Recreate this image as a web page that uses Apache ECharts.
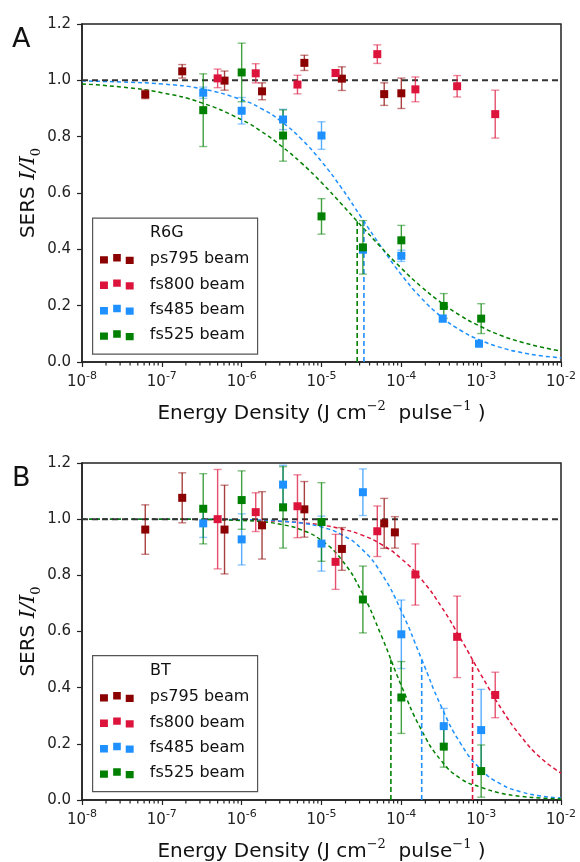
<!DOCTYPE html>
<html>
<head>
<meta charset="utf-8">
<script src="https://cdn.jsdelivr.net/npm/echarts@6/dist/echarts.min.js"></script>
<style>
  html, body { margin: 0; padding: 0; background: #fff; }
  #chart { width: 580px; height: 862px; }
</style>
</head>
<body>
<div id="chart"></div>
<script>
// ---- data ----
var beamNames = ['ps795 beam', 'fs800 beam', 'fs485 beam', 'fs525 beam'];
var beamColors = ['#8B0000', '#DC143C', '#1E90FF', '#008000'];

// panel A (R6G)
var ps795A_x = [6.2e-8, 1.8e-7, 6.1e-7, 1.8e-6, 6.1e-6, 1.8e-5, 6.1e-5, 1e-4];
var ps795A_y = [0.950, 1.032, 0.999, 0.961, 1.062, 1.006, 0.951, 0.954];
var ps795A_e = [0.015, 0.024, 0.034, 0.030, 0.027, 0.042, 0.040, 0.054];
var fs800A_x = [5e-7, 1.5e-6, 5e-6, 1.5e-5, 5e-5, 1.5e-4, 5e-4, 1.5e-3];
var fs800A_y = [1.007, 1.025, 0.985, 1.026, 1.093, 0.968, 0.979, 0.880];
var fs800A_e = [0.033, 0.034, 0.033, 0.012, 0.033, 0.044, 0.038, 0.085];
var fs485A_x = [3.3e-7, 1e-6, 3.3e-6, 1e-5, 3.3e-5, 1e-4, 3.3e-4, 9.4e-4];
var fs485A_y = [0.956, 0.892, 0.861, 0.804, 0.399, 0.377, 0.154, 0.065];
var fs485A_e = [0.020, 0.047, 0.036, 0.049, 0.012, 0.020, 0.012, 0.010];
var fs525A_x = [3.3e-7, 1e-6, 3.3e-6, 1e-5, 3.3e-5, 1e-4, 3.4e-4, 1e-3];
var fs525A_y = [0.894, 1.028, 0.804, 0.517, 0.407, 0.432, 0.199, 0.154];
var fs525A_e = [0.129, 0.104, 0.091, 0.063, 0.095, 0.053, 0.044, 0.053];

// panel B (BT)
var ps795B_x = [6.2e-8, 1.8e-7, 6.1e-7, 1.8e-6, 6.1e-6, 1.8e-5, 6.1e-5, 8.3e-5];
var ps795B_y = [0.963, 1.076, 0.963, 0.978, 1.035, 0.894, 0.985, 0.953];
var ps795B_e = [0.088, 0.089, 0.158, 0.120, 0.099, 0.076, 0.089, 0.056];
var fs800B_x = [5e-7, 1.5e-6, 5e-6, 1.5e-5, 5e-5, 1.5e-4, 5e-4, 1.5e-3];
var fs800B_y = [1.000, 1.025, 1.046, 0.848, 0.957, 0.803, 0.581, 0.374];
var fs800B_e = [0.177, 0.069, 0.112, 0.098, 0.090, 0.109, 0.145, 0.081];
var fs485B_x = [3.3e-7, 1e-6, 3.3e-6, 1e-5, 3.3e-5, 1e-4, 3.4e-4, 1e-3];
var fs485B_y = [0.985, 0.928, 1.123, 0.913, 1.096, 0.590, 0.263, 0.249];
var fs485B_e = [0.050, 0.091, 0.069, 0.098, 0.083, 0.122, 0.063, 0.145];
var fs525B_x = [3.3e-7, 1e-6, 3.3e-6, 1e-5, 3.3e-5, 1e-4, 3.4e-4, 1e-3];
var fs525B_y = [1.037, 1.068, 1.042, 0.990, 0.714, 0.365, 0.190, 0.103];
var fs525B_e = [0.125, 0.104, 0.145, 0.140, 0.119, 0.128, 0.073, 0.093];

// fitted dashed curves, read at quarter-decade steps
var fitX = [1e-8, 3.16e-8, 1e-7, 3.16e-7, 1e-6, 1.78e-6, 3.16e-6, 5.62e-6, 1e-5, 1.78e-5, 3.16e-5,
            5.62e-5, 1e-4, 1.78e-4, 3.16e-4, 5.62e-4, 1e-3, 1.78e-3, 3.16e-3, 5.62e-3, 1e-2];
var fitA485 = [0.998, 0.994, 0.987, 0.970, 0.931, 0.899, 0.853, 0.791, 0.712, 0.618, 0.513,
               0.408, 0.310, 0.227, 0.161, 0.111, 0.076, 0.051, 0.034, 0.022, 0.015];
var fitA525 = [0.987, 0.976, 0.956, 0.920, 0.860, 0.818, 0.766, 0.706, 0.637, 0.561, 0.483,
               0.406, 0.333, 0.267, 0.211, 0.163, 0.125, 0.094, 0.071, 0.053, 0.039];
var fitB800 = [1.000, 1.000, 1.000, 0.999, 0.997, 0.995, 0.992, 0.987, 0.979, 0.965, 0.944,
               0.910, 0.859, 0.786, 0.689, 0.571, 0.445, 0.326, 0.226, 0.149, 0.096];
var fitB485 = [1.000, 1.000, 1.000, 1.000, 0.998, 0.997, 0.993, 0.986, 0.972, 0.945, 0.895,
               0.807, 0.673, 0.504, 0.333, 0.198, 0.108, 0.056, 0.029, 0.014, 0.007];
var fitB525 = [1.000, 1.000, 1.000, 0.999, 0.995, 0.991, 0.981, 0.962, 0.924, 0.856, 0.743,
               0.585, 0.407, 0.250, 0.140, 0.075, 0.045, 0.024, 0.013, 0.007, 0.004];

// half-response energies (vertical dashed drops)
var ec50A_485 = 3.4e-5, ec50A_525 = 2.8e-5;
var ec50B_800 = 7.8e-4, ec50B_485 = 1.8e-4, ec50B_525 = 7.4e-5;

var FONT = 'DejaVu Sans';
var chart = echarts.init(document.getElementById('chart'));

function zip(xs, ys, es) {
  return xs.map(function(x, i) { return es ? [x, ys[i], es[i]] : [x, ys[i]]; });
}

function errRender(params, api) {
  var x = api.value(0), y = api.value(1), e = api.value(2);
  var hi = api.coord([x, y + e]), lo = api.coord([x, y - e]);
  var c = api.visual('color'), w = 4;
  return {type: 'group', children: [
    {type: 'line', shape: {x1: hi[0], y1: hi[1], x2: lo[0], y2: lo[1]}, style: {stroke: c, lineWidth: 1.4, opacity: 0.75}},
    {type: 'line', shape: {x1: hi[0] - w, y1: hi[1], x2: hi[0] + w, y2: hi[1]}, style: {stroke: c, lineWidth: 1.4, opacity: 0.5}},
    {type: 'line', shape: {x1: lo[0] - w, y1: lo[1], x2: lo[0] + w, y2: lo[1]}, style: {stroke: c, lineWidth: 1.4, opacity: 0.5}}
  ]};
}

// log minor ticks (2..9 per decade), drawn just under the bottom axis
var minorVals = [];
for (var d = -8; d < -2; d++) for (var k = 2; k <= 9; k++) minorVals.push(k * Math.pow(10, d));

function minorRender(params, api) {
  var p = api.coord([api.value(0), 0]);
  return {type: 'line', shape: {x1: p[0], y1: p[1], x2: p[0], y2: p[1] + 3.5},
    style: {stroke: '#222', lineWidth: 1.2}};
}

var panels = [
  {xs: [ps795A_x, fs800A_x, fs485A_x, fs525A_x], ys: [ps795A_y, fs800A_y, fs485A_y, fs525A_y],
   es: [ps795A_e, fs800A_e, fs485A_e, fs525A_e],
   fits: [[2, fitA485], [3, fitA525]], drops: [[2, ec50A_485], [3, ec50A_525]]},
  {xs: [ps795B_x, fs800B_x, fs485B_x, fs525B_x], ys: [ps795B_y, fs800B_y, fs485B_y, fs525B_y],
   es: [ps795B_e, fs800B_e, fs485B_e, fs525B_e],
   fits: [[1, fitB800], [2, fitB485], [3, fitB525]], drops: [[1, ec50B_800], [2, ec50B_485], [3, ec50B_525]]}
];

var series = [];
panels.forEach(function(pn, gi) {
  pn.fits.forEach(function(f) {
    series.push({type: 'line', xAxisIndex: gi, yAxisIndex: gi, data: zip(fitX, f[1]), smooth: true,
      showSymbol: false, silent: true, z: 2,
      lineStyle: {color: beamColors[f[0]], width: 1.5, type: [4, 3]}});
  });
  pn.drops.forEach(function(dp) {
    series.push({type: 'line', xAxisIndex: gi, yAxisIndex: gi, data: [[dp[1], 0], [dp[1], 0.5]],
      showSymbol: false, silent: true, z: 2,
      lineStyle: {color: beamColors[dp[0]], width: 1.6, type: [5, 3]}});
  });
  series.push({type: 'line', xAxisIndex: gi, yAxisIndex: gi, data: [[1e-8, 1], [1e-2, 1]],
    showSymbol: false, silent: true, z: 3, lineStyle: {color: '#333', width: 2, type: [6, 4]}});
  series.push({type: 'custom', xAxisIndex: gi, yAxisIndex: gi,
    data: minorVals.map(function(v) { return [v, 0.5]; }), encode: {x: 0, y: 1},
    renderItem: minorRender, clip: false, silent: true, z: 10});
  for (var s = 0; s < 4; s++) {
    series.push({type: 'custom', xAxisIndex: gi, yAxisIndex: gi, data: zip(pn.xs[s], pn.ys[s], pn.es[s]),
      renderItem: errRender, itemStyle: {color: beamColors[s]}, encode: {x: 0, y: 1}, silent: true, z: 4});
    series.push({type: 'scatter', name: beamNames[s], xAxisIndex: gi, yAxisIndex: gi,
      data: zip(pn.xs[s], pn.ys[s]), symbol: 'rect', symbolSize: 8, z: 5,
      itemStyle: {color: beamColors[s], opacity: 1}});
  }
});

var gridTops = [24, 463];
var gridHeights = [338, 337];

var xAxes = [0, 1].map(function(gi) {
  return {
    type: 'log', logBase: 10, min: 1e-8, max: 1e-2, splitNumber: 6, gridIndex: gi,
    axisLine: {lineStyle: {color: '#222', width: 1.5}},
    axisTick: {length: 5, lineStyle: {color: '#222', width: 1.2}},
    splitLine: {show: false},
    axisLabel: {
      margin: 9, color: '#222',
      formatter: function(v) { return '{b|10}{s|' + Math.round(Math.log10(v)) + '}'; },
      rich: {
        b: {fontSize: 15, fontFamily: FONT, color: '#222', lineHeight: 22},
        s: {fontSize: 11, fontFamily: FONT, color: '#222', verticalAlign: 'top', lineHeight: 12}
      }
    },
    name: '{a|Energy Density (J cm}{s|\u22122}{a|  pulse}{s|\u22121}{a| )}',
    nameLocation: 'middle', nameGap: 38,
    nameTextStyle: {
      rich: {
        a: {fontSize: 20, fontFamily: FONT, color: '#111', lineHeight: 28},
        s: {fontSize: 13, fontFamily: 'DejaVu Serif', color: '#111', verticalAlign: 'top', lineHeight: 14}
      }
    }
  };
});

var yAxes = [0, 1].map(function(gi) {
  return {
    type: 'value', min: 0, max: 1.2, interval: 0.2, gridIndex: gi,
    axisLine: {show: true, lineStyle: {color: '#222', width: 1.5}},
    axisTick: {show: true, length: 5, lineStyle: {color: '#222', width: 1.2}},
    splitLine: {show: false},
    axisLabel: {margin: 11, fontSize: 15, fontFamily: FONT, color: '#222',
      formatter: function(v) { return v.toFixed(1); }},
    name: '{a|SERS }{i|I/I}{sub|0}',
    nameLocation: 'middle', nameGap: 39, nameMoveOverlap: false,
    nameTextStyle: {
      rich: {
        a: {fontSize: 20, fontFamily: FONT, color: '#111', lineHeight: 28},
        i: {fontSize: 21, fontFamily: 'DejaVu Serif', fontStyle: 'italic', color: '#111', lineHeight: 28},
        sub: {fontSize: 13, fontFamily: 'DejaVu Serif', color: '#111', verticalAlign: 'bottom', lineHeight: 14}
      }
    }
  };
});

var legendIcon = 'path://M0,2.2h8v7.5h-8z M13.3,0h7.7v7.5h-7.7z M26,2.8h8v7.3h-8z';
var legendTops = [250, 688];
var boxTops = [217.5, 655];
var legendTitles = ['R6G', 'BT'];
var titleYs = [233, 671];
var panelLabels = ['A', 'B'];
var panelLabelYs = [40, 479];

var legends = [0, 1].map(function(gi) {
  return {
    orient: 'vertical', left: 100, top: legendTops[gi], padding: 0, z: 6,
    data: beamNames.map(function(n, i) { return {name: n, itemStyle: {color: beamColors[i]}}; }),
    icon: legendIcon, itemWidth: 34, itemHeight: 10, itemGap: 7.4, selectedMode: false,
    textStyle: {fontSize: 16, fontFamily: FONT, color: '#111', lineHeight: 18, padding: [0, 0, 0, 11]}
  };
});

var graphics = [];
[0, 1].forEach(function(gi) {
  graphics.push({type: 'rect', left: 92, top: boxTops[gi], z: 5,
    shape: {width: 165, height: 136}, style: {fill: '#fff', stroke: '#555', lineWidth: 1.2}});
  graphics.push({type: 'text', x: 150, y: titleYs[gi], z: 6,
    style: {text: legendTitles[gi], fontSize: 16, fontFamily: FONT, fill: '#111',
      verticalAlign: 'middle', textVerticalAlign: 'middle'}});
  graphics.push({type: 'text', x: 12, y: panelLabelYs[gi], z: 6,
    style: {text: panelLabels[gi], fontSize: 27, fontFamily: FONT, fill: '#111',
      verticalAlign: 'middle', textVerticalAlign: 'middle'}});
});

chart.setOption({
  animation: false,
  backgroundColor: '#fff',
  grid: [0, 1].map(function(gi) {
    return {left: 82, right: 19, top: gridTops[gi], height: gridHeights[gi], show: true,
      borderColor: '#222', borderWidth: 1.5, backgroundColor: 'transparent', outerBoundsMode: 'none'};
  }),
  xAxis: xAxes,
  yAxis: yAxes,
  legend: legends,
  graphic: graphics,
  series: series
});
</script>
</body>
</html>
